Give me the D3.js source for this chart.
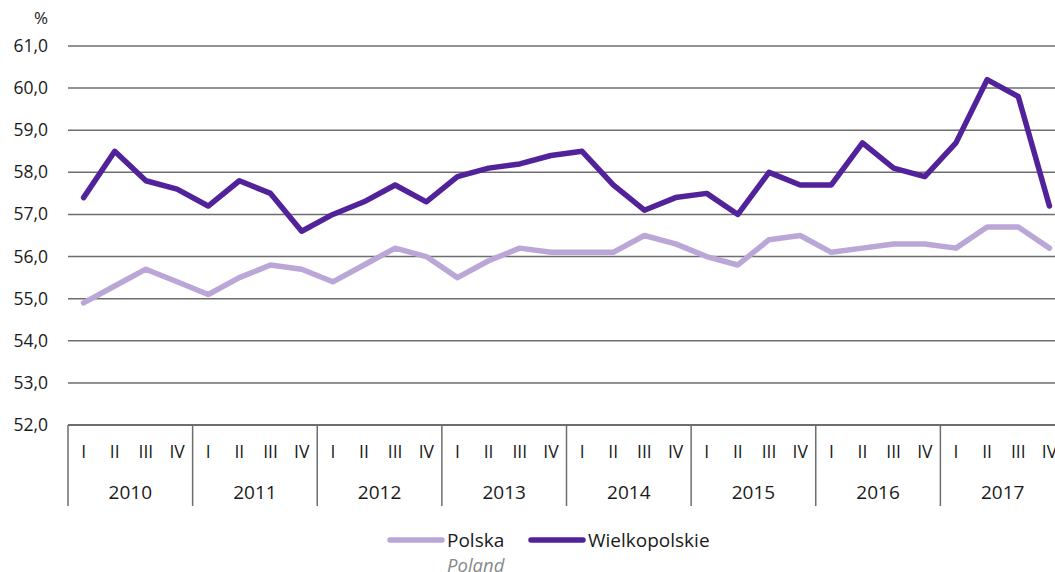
<!DOCTYPE html>
<html lang="pl">
<head>
  <meta charset="utf-8">
  <title>Wskaźnik zatrudnienia</title>
  <script src="https://cdnjs.cloudflare.com/ajax/libs/d3/7.8.5/d3.min.js"></script>
  <style>
    body { margin: 0; background: #fff; }
    text { font-family: "Open Sans", "Noto Sans", sans-serif; fill: #1a1a1a; }
  </style>
</head>
<body>
  <script>
    var w = 1055;
    var h = 572;

    var years = ['2010', '2011', '2012', '2013', '2014', '2015', '2016', '2017'];
    var quarters = ['I', 'II', 'III', 'IV'];
    var yTicks = [52, 53, 54, 55, 56, 57, 58, 59, 60, 61];

    var polska = [54.9, 55.3, 55.7, 55.4, 55.1, 55.5, 55.8, 55.7, 55.4, 55.8, 56.2, 56.0,
      55.5, 55.9, 56.2, 56.1, 56.1, 56.1, 56.5, 56.3, 56.0, 55.8, 56.4, 56.5,
      56.1, 56.2, 56.3, 56.3, 56.2, 56.7, 56.7, 56.2];
    var wielkopolskie = [57.4, 58.5, 57.8, 57.6, 57.2, 57.8, 57.5, 56.6, 57.0, 57.3, 57.7, 57.3,
      57.9, 58.1, 58.2, 58.4, 58.5, 57.7, 57.1, 57.4, 57.5, 57.0, 58.0, 57.7,
      57.7, 58.7, 58.1, 57.9, 58.7, 60.2, 59.8, 57.2];

    var plotLeft = 68, plotRight = 1065, plotTop = 46, plotBottom = 425;

    var labels = [];
    years.forEach(y => quarters.forEach(q => labels.push(y + '-' + q)));

    var xScale = d3.scaleBand().domain(labels).range([plotLeft, plotRight]);
    var yearScale = d3.scaleBand().domain(years).range([plotLeft, plotRight]);
    var yScale = d3.scaleLinear().domain([52, 61]).range([plotBottom, plotTop]);

    var svg = d3.select('body').append('svg')
      .attr('width', w).attr('height', h);

    // gridlines
    svg.selectAll('.grid').data(yTicks.slice(1)).enter()
      .append('line')
      .attr('x1', plotLeft).attr('x2', w)
      .attr('y1', d => yScale(d)).attr('y2', d => yScale(d))
      .attr('stroke', '#6d6d6d').attr('stroke-width', 1.5);

    svg.selectAll('.ylab').data(yTicks).enter()
      .append('text')
      .attr('x', 48).attr('y', d => yScale(d) + 6)
      .attr('text-anchor', 'end')
      .attr('font-size', 17.5)
      .text(d => d.toFixed(1).replace('.', ','));

    svg.append('text').attr('x', 41).attr('y', 24)
      .attr('text-anchor', 'middle').attr('font-size', 17).text('%');

    // bottom axis
    svg.append('line')
      .attr('x1', plotLeft).attr('x2', w)
      .attr('y1', plotBottom).attr('y2', plotBottom)
      .attr('stroke', '#6d6d6d').attr('stroke-width', 2);

    svg.selectAll('.sep').data(years).enter()
      .append('line')
      .attr('x1', d => yearScale(d)).attr('x2', d => yearScale(d))
      .attr('y1', plotBottom).attr('y2', 506)
      .attr('stroke', '#6d6d6d').attr('stroke-width', 1.5);

    svg.selectAll('.qlab').data(labels).enter()
      .append('text')
      .attr('x', d => xScale(d) + xScale.bandwidth() / 2)
      .attr('y', 458)
      .attr('text-anchor', 'middle')
      .attr('font-size', 17.5)
      .text(d => d.split('-')[1]);

    svg.selectAll('.ylab2').data(years).enter()
      .append('text')
      .attr('x', d => yearScale(d) + yearScale.bandwidth() / 2)
      .attr('y', 499)
      .attr('text-anchor', 'middle')
      .attr('font-size', 19)
      .text(d => d);

    var line = d3.line()
      .x((d, i) => xScale(labels[i]) + xScale.bandwidth() / 2)
      .y(d => yScale(d));

    svg.append('path').datum(polska)
      .attr('d', line).attr('fill', 'none')
      .attr('stroke', '#baa7d7').attr('stroke-width', 5.5)
      .attr('stroke-linejoin', 'round').attr('stroke-linecap', 'round');

    svg.append('path').datum(wielkopolskie)
      .attr('d', line).attr('fill', 'none')
      .attr('stroke', '#52229b').attr('stroke-width', 5.5)
      .attr('stroke-linejoin', 'round').attr('stroke-linecap', 'round');

    // legend
    var legend = [
      { name: 'Polska', color: '#baa7d7', x: 390, sub: 'Poland' },
      { name: 'Wielkopolskie', color: '#52229b', x: 531, sub: null }
    ];
    legend.forEach(function (l) {
      svg.append('line')
        .attr('x1', l.x).attr('x2', l.x + 52)
        .attr('y1', 540).attr('y2', 540)
        .attr('stroke', l.color).attr('stroke-width', 5.5)
        .attr('stroke-linecap', 'round');
      svg.append('text').attr('x', l.x + 57).attr('y', 547)
        .attr('font-size', 19).text(l.name);
      if (l.sub) {
        svg.append('text').attr('x', l.x + 57).attr('y', 572)
          .attr('font-size', 18.5).attr('font-style', 'italic')
          .style('fill', '#888').text(l.sub);
      }
    });
  </script>
</body>
</html>
